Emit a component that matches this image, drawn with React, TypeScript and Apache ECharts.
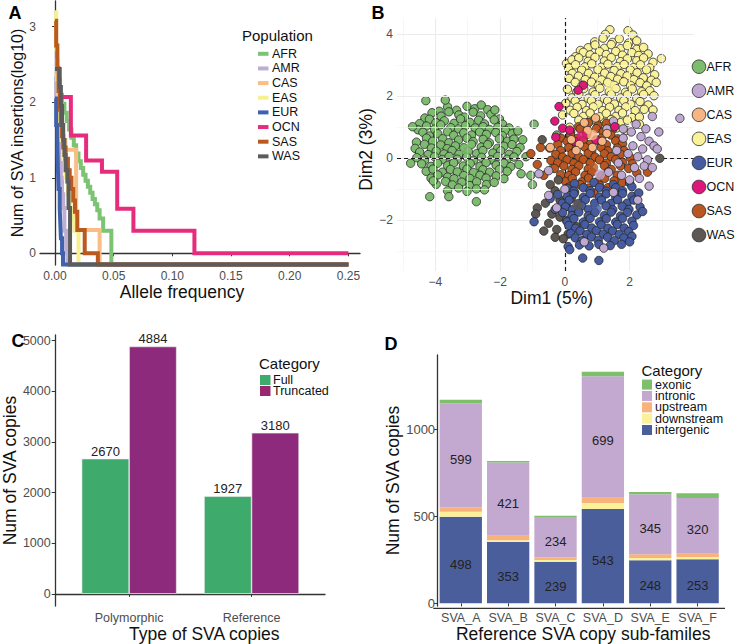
import React, { useEffect, useRef } from "react";
import * as echarts from "echarts";

const FONT = "'Liberation Sans', Arial, Helvetica, sans-serif";

// ---------------- Panel A: allele frequency step lines ----------------
const populations = ["AFR", "AMR", "CAS", "EAS", "EUR", "OCN", "SAS", "WAS"];
const afLineColors = ["#7CC474", "#BEAED4", "#FABD86", "#F6F08E", "#3E62AE", "#E62C7C", "#BA5A1E", "#5C5C5C"];
// [allele frequency, log10(number of SVA insertions)] ; -0.15 = no insertion (drawn at the axis floor)
const afrSteps = [[0, 2.55], [0.002, 2.3], [0.004, 2.1], [0.006, 1.98], [0.008, 1.86], [0.01, 1.75], [0.012, 1.64], [0.014, 1.53], [0.016, 1.43], [0.018, 1.32], [0.02, 1.22], [0.022, 1.13], [0.024, 1.04], [0.026, 0.96], [0.028, 0.88], [0.03, 0.8], [0.032, 0.72], [0.034, 0.65], [0.036, 0.57], [0.038, 0.46], [0.041, 0.3], [0.048, -0.15], [0.25, -0.15]];
const amrSteps = [[0, 2.35], [0.001, 2.0], [0.002, 1.7], [0.003, 1.45], [0.004, 1.2], [0.005, 1.0], [0.006, 0.78], [0.007, 0.6], [0.008, 0.3], [0.0095, 0], [0.0105, -0.15], [0.25, -0.15]];
const casSteps = [[0, 1.95], [0.003, 1.7], [0.006, 1.5], [0.0088, 1.37], [0.018, 0.31], [0.038, -0.15], [0.25, -0.15]];
const easSteps = [[0, 3.19], [0.001, 2.7], [0.002, 2.3], [0.003, 2.0], [0.004, 1.75], [0.005, 1.5], [0.007, 1.25], [0.009, 1.0], [0.011, 0.78], [0.013, 0.6], [0.015, 0.45], [0.0165, 0.3], [0.02, -0.15], [0.25, -0.15]];
const eurSteps = [[0, 2.05], [0.001, 1.7], [0.002, 1.4], [0.0025, 1.1], [0.003, 0.85], [0.004, 0.6], [0.0045, 0.4], [0.005, 0.2], [0.006, 0], [0.0068, -0.15], [0.25, -0.15]];
const ocnSteps = [[0.003, 2.07], [0.0135, 1.56], [0.0265, 1.23], [0.04, 1.08], [0.053, 0.59], [0.0668, 0.3], [0.1188, 0], [0.25, 0]];
const sasSteps = [[0, 3.08], [0.001, 2.75], [0.002, 2.45], [0.003, 2.15], [0.004, 1.9], [0.005, 1.7], [0.006, 1.55], [0.007, 1.4], [0.009, 1.25], [0.011, 1.1], [0.0125, 1.0], [0.014, 0.85], [0.0155, 0.7], [0.017, 0.55], [0.019, 0.31], [0.0253, 0], [0.0365, -0.15], [0.25, -0.15]];
const wasSteps = [[0, 2.44], [0.004, 2.2], [0.005, 1.95], [0.006, 1.7], [0.007, 1.5], [0.008, 1.3], [0.009, 1.1], [0.0105, 0.95], [0.0115, 0.6], [0.0128, -0.15], [0.25, -0.15]];
const stepsByPop = [afrSteps, amrSteps, casSteps, easSteps, eurSteps, ocnSteps, sasSteps, wasSteps];
const afTicks = [0, 0.05, 0.1, 0.15, 0.2, 0.25];
const log10Ticks = [0, 1, 2, 3];

// ---------------- Panel B: PCA scatter ----------------
const pcaColors = ["#7DBB6E", "#BFA9D2", "#F7B583", "#FAF29A", "#465BA0", "#E0177A", "#BA5620", "#5E5853"];
const afrPts = [
  -3.88, 1.52, -3.62, 1.66, -3.34, 1.55, -3.02, 1.68, -2.78, 1.6, -2.58, 1.72, -2.38, 1.57,
  -4.32, 1.3, -4.1, 1.47, -3.82, 1.36, -3.58, 1.5, -3.27, 1.4, -3.1, 1.33, -2.83, 1.49, -2.6, 1.37, -2.28, 1.42, -2.02, 1.27,
  -4.48, 1.12, -4.18, 1.26, -3.98, 1.15, -3.72, 1.21, -3.42, 1.13, -3.22, 1.27, -2.93, 1.16, -2.66, 1.23, -2.48, 1.11, -2.18, 1.24, -1.92, 1.1, -1.72, 0.98,
  -4.53, 0.92, -4.27, 1.04, -4.02, 0.94, -3.83, 1.08, -3.52, 0.99, -3.28, 0.95, -3.07, 1.05, -2.77, 0.98, -2.52, 1.02, -2.33, 0.93, -2.07, 1.0, -1.83, 0.9,
  -4.38, 0.84, -4.18, 0.72, -3.92, 0.79, -3.62, 0.86, -3.43, 0.74, -3.12, 0.82, -2.88, 0.75, -2.63, 0.85, -2.42, 0.77, -2.13, 0.83, -1.93, 0.73, -1.62, 0.8, -1.45, 0.88,
  -4.58, 0.52, -4.27, 0.65, -4.08, 0.55, -3.77, 0.63, -3.58, 0.5, -3.28, 0.59, -3.02, 0.65, -2.83, 0.54, -2.52, 0.61, -2.33, 0.5, -2.02, 0.63, -1.77, 0.55, -1.57, 0.62,
  -4.62, 0.32, -4.33, 0.45, -4.12, 0.33, -3.83, 0.43, -3.63, 0.31, -3.38, 0.4, -3.12, 0.34, -2.88, 0.45, -2.58, 0.36, -2.38, 0.44, -2.08, 0.32, -1.88, 0.39, -1.63, 0.44, -1.38, 0.35,
  -4.48, 0.2, -4.22, 0.12, -3.97, 0.23, -3.73, 0.14, -3.48, 0.25, -3.27, 0.13, -2.98, 0.22, -2.72, 0.15, -2.53, 0.25, -2.22, 0.17, -1.98, 0.24, -1.72, 0.13, -1.48, 0.22,
  -4.57, 0.02, -4.33, -0.06, -4.02, 0.05, -3.78, -0.04, -3.57, 0.06, -3.32, -0.03, -3.03, 0.04, -2.82, -0.07, -2.57, 0.03, -2.28, -0.05, -2.07, 0.06, -1.78, -0.03, -1.57, 0.04,
  -4.42, -0.18, -4.13, -0.26, -3.93, -0.16, -3.62, -0.24, -3.43, -0.15, -3.13, -0.25, -2.92, -0.17, -2.62, -0.26, -2.43, -0.14, -2.12, -0.22, -1.88, -0.16, -1.67, -0.27, -1.42, -0.2,
  -4.28, -0.42, -4.07, -0.35, -3.78, -0.45, -3.53, -0.36, -3.32, -0.44, -3.02, -0.35, -2.82, -0.46, -2.53, -0.37, -2.32, -0.45, -2.02, -0.36, -1.78, -0.42,
  -4.13, -0.64, -3.92, -0.54, -3.62, -0.61, -3.42, -0.66, -3.12, -0.56, -2.93, -0.65, -2.62, -0.55, -2.43, -0.64, -2.12, -0.57, -1.88, -0.66,
  -3.97, -0.84, -3.68, -0.75, -3.47, -0.86, -3.18, -0.77, -2.93, -0.88, -2.72, -0.76, -2.42, -0.85, -2.18, -0.78,
  -3.62, -1.05, -3.28, -0.96, -3.02, -1.07, -2.73, -0.99, -2.48, -1.02,
  -4.29, 1.86, -3.69, 1.88, -4.7, 1.02, -4.76, -0.16, -4.17, -1.24, -2.73, -1.4, -2.16, 1.56, -3.58, -1.24, -4.06, -0.73,
  -1.3, 0.6, -1.2, 0.05, -1.35, -0.5, -0.95, 1.1, -1.05, -0.55, -1.0, -0.85, -0.35, -0.3, -0.25, 0.75,
];
const easPts = [
  1.39, 4.15, 1.95, 4.12, 2.1, 3.98, 1.25, 4.0,
  0.92, 3.76, 1.18, 3.88, 1.47, 3.74, 1.68, 3.86, 1.97, 3.72, 2.22, 3.79,
  0.48, 3.48, 0.72, 3.57, 0.93, 3.66, 1.22, 3.55, 1.43, 3.67, 1.72, 3.54, 1.93, 3.64, 2.22, 3.52, 2.43, 3.58,
  0.33, 3.28, 0.57, 3.42, 0.78, 3.34, 1.07, 3.44, 1.28, 3.35, 1.57, 3.45, 1.78, 3.33, 2.07, 3.41, 2.28, 3.32, 2.57, 3.37,
  0.05, 3.06, 0.22, 3.18, 0.43, 3.24, 0.72, 3.13, 0.93, 3.26, 1.22, 3.14, 1.43, 3.25, 1.72, 3.12, 1.93, 3.21, 2.22, 3.15, 2.43, 3.24, 2.72, 3.1, 2.98, 3.22,
  0.12, 2.92, 0.33, 3.02, 0.62, 2.95, 0.83, 3.05, 1.12, 2.94, 1.33, 3.04, 1.62, 2.96, 1.83, 3.03, 2.12, 2.93, 2.33, 3.02, 2.62, 2.92,
  0.23, 2.74, 0.52, 2.85, 0.73, 2.74, 1.02, 2.86, 1.23, 2.75, 1.52, 2.84, 1.73, 2.73, 2.02, 2.85, 2.23, 2.76, 2.52, 2.86, 2.77, 2.7,
  0.13, 2.58, 0.42, 2.65, 0.63, 2.54, 0.92, 2.62, 1.13, 2.53, 1.42, 2.64, 1.63, 2.55, 1.92, 2.66, 2.13, 2.54, 2.42, 2.6, 2.67, 2.52,
  0.32, 2.45, 0.53, 2.35, 0.82, 2.46, 1.03, 2.34, 1.32, 2.45, 1.53, 2.35, 1.82, 2.47, 2.03, 2.35, 2.32, 2.44, 2.53, 2.34, 2.82, 2.45,
  0.08, 2.23, 0.37, 2.14, 0.58, 2.25, 0.87, 2.14, 1.08, 2.26, 1.37, 2.15, 1.58, 2.25, 1.87, 2.13, 2.08, 2.24, 2.37, 2.15, 2.62, 2.18,
  0.22, 1.95, 0.43, 2.06, 0.72, 1.94, 0.93, 2.05, 1.22, 1.93, 1.43, 2.06, 1.72, 1.95, 1.93, 2.05, 2.22, 1.94, 2.43, 2.06, 2.75, 2.02,
  0.03, 1.78, 0.32, 1.85, 0.53, 1.74, 0.82, 1.86, 1.03, 1.74, 1.32, 1.85, 1.53, 1.75, 1.82, 1.86, 2.03, 1.74, 2.32, 1.83, 2.57, 1.72,
  0.17, 1.55, 0.38, 1.65, 0.67, 1.54, 0.88, 1.66, 1.17, 1.54, 1.38, 1.65, 1.67, 1.55, 1.88, 1.66, 2.17, 1.54, 2.45, 1.58, 2.72, 1.56,
  -0.07, 1.4, 0.28, 1.45, 0.57, 1.35, 0.78, 1.46, 1.07, 1.34, 1.28, 1.45, 1.57, 1.35, 1.78, 1.46, 2.07, 1.32, 2.3, 1.33,
  0.43, 1.23, 0.72, 1.15, 0.93, 1.26, 1.22, 1.14, 1.43, 1.25, 1.72, 1.15, 1.93, 1.23, 2.3, 1.1,
  0.15, 1.0, 0.6, 0.95, 1.1, 1.02, 1.6, 0.98, 1.9, 0.9,
];
const sasPts = [
  0.42, 1.02, 0.73, 1.15, 1.02, 1.05, 1.28, 1.13,
  0.18, 0.85, 0.47, 0.95, 0.68, 0.84, 0.97, 0.96, 1.18, 0.85, 1.47, 0.93,
  -0.12, 0.65, 0.17, 0.75, 0.38, 0.64, 0.67, 0.76, 1.13, 0.65, 1.42, 0.75, 1.63, 0.63,
  -0.22, 0.45, 0.07, 0.55, 0.28, 0.44, 0.57, 0.56, 0.78, 0.45, 1.07, 0.55, 1.28, 0.44, 1.57, 0.56, 1.78, 0.47,
  -0.47, 0.33, -0.13, 0.25, 0.12, 0.35, 0.33, 0.24, 0.62, 0.36, 0.83, 0.25, 1.12, 0.35, 1.33, 0.24, 1.62, 0.33, 1.83, 0.25,
  -0.28, 0.13, -0.07, 0.04, 0.22, 0.15, 0.43, 0.05, 0.72, 0.16, 0.93, 0.04, 1.22, 0.15, 1.43, 0.05, 1.72, 0.13, 2.02, 0.02,
  -0.43, -0.07, -0.22, -0.15, 0.07, -0.05, 0.28, -0.16, 0.57, -0.04, 0.78, -0.15, 1.07, -0.05, 1.28, -0.16, 1.57, -0.04, 1.78, -0.13, 2.08, -0.18,
  -0.32, -0.33, -0.03, -0.25, 0.22, -0.36, 0.43, -0.24, 0.72, -0.35, 1.22, -0.24, 1.43, -0.36, 1.72, -0.25, 1.97, -0.33,
  -0.13, -0.53, 0.12, -0.56, 0.33, -0.44, 0.62, -0.55, 0.83, -0.45, 1.12, -0.56, 1.33, -0.44, 1.62, -0.55, 2.22, -0.47,
  0.02, -0.75, 0.23, -0.65, 0.52, -0.76, 0.73, -0.64, 1.02, -0.75, 1.23, -0.65, 1.52, -0.73, 1.78, -0.78,
  0.13, -0.93, 0.47, -0.85, 0.73, -0.96, 1.07, -0.87, 1.33, -0.95,
  0.3, -1.1, 0.9, -1.12, 1.6, -1.05,
  -1.05, 0.15, -0.85, -0.2, -0.75, 0.35, -0.65, -0.55, 2.55, -0.45,
];
const eurPts = [
  0.3, -0.82, 0.9, -0.78, 1.5, -0.85, 2.0, -0.8,
  0.07, -0.97, 0.28, -1.06, 0.57, -0.95, 0.78, -1.05, 1.07, -0.94, 1.28, -1.06, 1.57, -0.95, 1.78, -1.05, 2.07, -0.92,
  -0.22, -1.17, 0.07, -1.25, 0.28, -1.15, 0.57, -1.26, 0.78, -1.14, 1.07, -1.25, 1.28, -1.15, 1.57, -1.26, 1.78, -1.14, 2.07, -1.23, 2.28, -1.12,
  -0.08, -1.45, 0.13, -1.35, 0.42, -1.46, 0.63, -1.34, 0.92, -1.45, 1.13, -1.35, 1.42, -1.46, 1.63, -1.34, 1.92, -1.45, 2.13, -1.35,
  0.02, -1.57, 0.23, -1.66, 0.52, -1.54, 0.73, -1.65, 1.27, -1.54, 1.48, -1.66, 1.77, -1.55, 1.98, -1.65, 2.32, -1.57,
  -0.07, -1.75, 0.22, -1.85, 0.43, -1.74, 0.72, -1.86, 0.93, -1.75, 1.22, -1.85, 1.43, -1.74, 1.72, -1.86, 1.93, -1.75, 2.22, -1.83,
  0.07, -2.05, 0.28, -1.95, 0.57, -2.06, 0.78, -1.94, 1.07, -2.05, 1.28, -1.95, 1.57, -2.06, 1.78, -1.94, 2.07, -2.03,
  0.12, -2.17, 0.33, -2.26, 0.62, -2.14, 0.83, -2.25, 1.12, -2.15, 1.33, -2.26, 1.62, -2.14, 1.83, -2.25, 2.12, -2.17,
  0.18, -2.43, 0.47, -2.35, 0.68, -2.46, 0.97, -2.34, 1.18, -2.45, 1.47, -2.35, 1.68, -2.46, 1.97, -2.37,
  0.32, -2.57, 0.53, -2.66, 0.82, -2.54, 1.03, -2.65, 1.32, -2.55, 1.53, -2.66, 1.82, -2.57, 2.07, -2.52,
  0.1, -2.85, 0.45, -2.8, 0.75, -2.83, 1.05, -2.78, 1.4, -2.82, 1.75, -2.78,
  0.15, -2.95, 0.55, -3.22, 1.05, -3.3, -0.95, -2.05, 2.4, -1.72, 2.0, -2.7, -0.45, -1.3, -0.3, -1.65,
];
const amrPts = [
  1.5, 1.2, 2.2, 1.1, 2.7, 1.35, 3.55, 1.29, 2.05, 0.85, 2.35, 0.7, 2.6, 0.55, 2.9, 0.85, 1.8, 0.65, 2.1, 0.4,
  2.4, 0.3, 2.75, 0.4, 1.95, 0.15, 2.25, 0.05, 2.55, -0.05, 2.85, 0.3, 2.15, -0.3, 2.45, -0.25, 2.7, -0.3, 1.75, -0.55,
  2.0, -0.7, 2.3, -0.65, 1.6, 0.25, 1.35, -0.45, 1.65, -0.15, 2.6, -0.9, 1.8, 0.95, 2.5, 0.95, 1.3, 0.95,
  -0.5, -0.4, -0.8, -0.5, -0.5, -1.2, -0.25, -1.6, 0.0, -1.0, 1.2, -2.9, 0.6, -2.7, 1.5, -1.1, 2.25, -1.35,
];
const wasPts = [
  -0.7, 0.6, -0.45, -0.85, -0.3, -1.05, -0.6, -1.45, -0.15, -1.35, 0.05, -1.55, -0.4, -1.8, -0.15, -1.9, -0.5, -2.1, -0.25, -2.3, 0.05, -2.0,
  0.25, -1.75, 0.1, -2.45, -0.05, -2.6, -0.3, -2.55, -0.85, -1.6, -0.9, -1.8, 2.93, 0.0, 0.2, -1.3, -0.2, -0.7, 0.35, -2.2, -0.65, -2.35,
];
const ocnPts = [0.57, 2.36, 0.41, 2.2, -0.18, 1.67, -0.28, 0.68, -0.07, 0.97, 0.15, 0.91, 1.54, 1.02, 0.96, 0.59, -0.31, 1.2, 0.3, 0.55];
const casPts = [0.2, 0.6, 0.45, 0.45, 0.7, 0.9, 0.95, 1.3, 1.15, 0.55, 0.35, 0.25, 0.85, 0.35, 0.6, 1.15, -0.45, 0.35, 1.3, 0.8];
const ptsByPop = [afrPts, amrPts, casPts, easPts, eurPts, ocnPts, sasPts, wasPts];
const drawOrder = [0, 3, 6, 7, 4, 1, 5, 2];
const centroidX = [-3.05, 1.08, 0.85, 1.42, 0.98, 0.53, 0.87, 0.39];
const centroidY = [0.28, -0.52, 0.75, 2.33, -1.64, 0.72, -0.3, -1.51];
const dim1Ticks = [-4, -2, 0, 2];
const dim2Ticks = [-2, 0, 2, 4];
const dim1Major = [-4, -2, 0, 2];
const dim1Minor = [-5, -3, -1, 1, 3];
const dim2Major = [-2, 0, 2, 4];
const dim2Minor = [-3, -1, 1, 3];

// ---------------- Panel C: copies by type ----------------
const copyTypes = ["Polymorphic", "Reference"];
const fullCounts = [2670, 1927];
const truncatedCounts = [4884, 3180];
const copyTicks = [0, 1000, 2000, 3000, 4000, 5000];
const fullColor = "#3EAA6B";
const truncColor = "#8E2A7B";

// ---------------- Panel D: sub-families by genomic region ----------------
const subfamilies = ["SVA_A", "SVA_B", "SVA_C", "SVA_D", "SVA_E", "SVA_F"];
const intergenic = [498, 353, 239, 543, 248, 253];
const downstream = [28, 10, 10, 34, 12, 13];
const upstream = [25, 26, 14, 30, 22, 19];
const intronic = [599, 421, 234, 699, 345, 320];
const exonic = [20, 8, 6, 25, 13, 28];
const regionNames = ["exonic", "intronic", "upstream", "downstream", "intergenic"];
const regionColors = ["#7DBF6A", "#C3A8D0", "#F7B37B", "#FCF19B", "#4B5E9C"];
const subTicks = [0, 500, 1000];

const pair = (a: number[]) => {
  const out: number[][] = [];
  for (let i = 0; i < a.length; i += 2) out.push([a[i], a[i + 1]]);
  return out;
};
const minus = (v: number) => (v < 0 ? "\u2212" + Math.abs(v) : String(v));

export default function App() {
  const ref = useRef<HTMLDivElement>(null);
  useEffect(() => {
    if (!ref.current) return;
    const chart = echarts.init(ref.current, undefined, { renderer: "svg" });
    const axisLine = { show: true, lineStyle: { color: "#333333", width: 1.3 } };
    const tick = (vals: number[], len = 3) => ({ show: true, customValues: vals, length: len, lineStyle: { color: "#333333", width: 1 } });
    const lab = (vals: number[], margin: number, fmt?: (v: number) => string, size = 12) => ({
      show: true, customValues: vals, margin, color: "#4D4D4D", fontSize: size, fontFamily: FONT,
      formatter: fmt ? (v: number) => fmt(v) : (v: number) => String(v),
    });
    const nameStyle = (padding?: number[], size = 17.5) => ({ fontSize: size, color: "#111111", fontFamily: FONT, padding });

    const seriesA = stepsByPop.map((pts, i) => ({
      type: "line", name: populations[i], xAxisIndex: 0, yAxisIndex: 0, data: pts, step: "end",
      showSymbol: false, symbol: "none", clip: false, silent: true, z: 2 + i,
      lineStyle: { color: afLineColors[i], width: 4, cap: "butt", join: "miter" },
      itemStyle: { color: afLineColors[i] },
    }));

    const gridLines = [
      ...dim1Minor.map((v) => ({ xAxis: v, lineStyle: { color: "#F3F3F3", width: 0.7, type: "solid" } })),
      ...dim2Minor.map((v) => ({ yAxis: v, lineStyle: { color: "#F3F3F3", width: 0.7, type: "solid" } })),
      ...dim1Major.map((v) => ({ xAxis: v, lineStyle: { color: "#EBEBEB", width: 1, type: "solid" } })),
      ...dim2Major.map((v) => ({ yAxis: v, lineStyle: { color: "#EBEBEB", width: 1, type: "solid" } })),
      { xAxis: 0, lineStyle: { color: "#1A1A1A", width: 1.2, type: [4, 3] } },
      { yAxis: 0, lineStyle: { color: "#1A1A1A", width: 1.2, type: [4, 3] } },
    ];
    const seriesB: any[] = [
      {
        type: "scatter", xAxisIndex: 1, yAxisIndex: 1, data: [], z: 1, silent: true,
        markLine: { silent: true, symbol: ["none", "none"], label: { show: false }, data: gridLines },
      },
      ...drawOrder.map((i, k) => ({
        type: "scatter", name: populations[i], xAxisIndex: 1, yAxisIndex: 1, data: pair(ptsByPop[i]),
        symbolSize: 8.4, z: 3 + k, silent: true,
        itemStyle: { color: pcaColors[i], borderColor: "#262626", borderWidth: 0.8, opacity: 1 },
      })),
      {
        type: "scatter", name: "centroids", xAxisIndex: 1, yAxisIndex: 1, symbolSize: 10.5, z: 20, silent: true,
        data: populations.map((p, i) => ({ value: [centroidX[i], centroidY[i]], itemStyle: { color: pcaColors[i] } })),
        itemStyle: { borderWidth: 0 },
      },
    ];

    const seriesC = [
      { name: "Full", vals: fullCounts, color: fullColor },
      { name: "Truncated", vals: truncatedCounts, color: truncColor },
    ].map((s) => ({
      type: "bar", name: s.name, xAxisIndex: 2, yAxisIndex: 2, barWidth: 47.5, barGap: "0%",
      data: s.vals.map((v, i) => [i + 1, v]), silent: true,
      itemStyle: { color: s.color, borderColor: "#F4EEF4", borderWidth: 0.6 },
      label: { show: true, position: "top", distance: 1, color: "#222222", fontSize: 13, fontFamily: FONT },
    }));

    const dStack = [
      { name: "intergenic", vals: intergenic, color: regionColors[4], label: true },
      { name: "downstream", vals: downstream, color: regionColors[3], label: false },
      { name: "upstream", vals: upstream, color: regionColors[2], label: false },
      { name: "intronic", vals: intronic, color: regionColors[1], label: true },
      { name: "exonic", vals: exonic, color: regionColors[0], label: false },
    ];
    const seriesD = dStack.map((s) => ({
      type: "bar", name: s.name, xAxisIndex: 3, yAxisIndex: 3, stack: "region", barWidth: 42.3,
      data: s.vals, silent: true,
      itemStyle: { color: s.color },
      label: {
        show: s.label, position: "inside", offset: [0, 4], color: "#222222", fontSize: 13, fontFamily: FONT,
      },
    }));

    const T = (text: string, x: number, y: number, size: number, extra: any = {}) => ({
      type: "text", x, y, z: 100, silent: true,
      style: { text, fontSize: size, fontFamily: FONT, fill: "#111111", align: "left", verticalAlign: "middle", ...extra },
    });
    const graphics: any[] = [
      T("A", 15, 13, 18, { fontWeight: "bold", align: "center", fill: "#000" }),
      T("B", 378, 13, 18, { fontWeight: "bold", align: "center", fill: "#000" }),
      T("C", 18, 341, 18, { fontWeight: "bold", align: "center", fill: "#000" }),
      T("D", 391, 344, 18, { fontWeight: "bold", align: "center", fill: "#000" }),
      T("Population", 242, 35, 15),
      T("Category", 259, 363, 15, { lineHeight: 13 }),
      T("Category", 641.5, 370, 15, { lineHeight: 13 }),
      // x-axis line of panel D (ggplot draws it over the whole expanded range)
      { type: "line", z: 50, silent: true, shape: { x1: 433.3, y1: 608.3, x2: 725, y2: 608.3 }, style: { stroke: "#333333", lineWidth: 1.3 } },
      // legend labels of panels C and D (one multi-line text per legend; rows are packed as tightly as in the figure)
      T(copyTypes.length ? ["Full", "Truncated"].join("\n") : "", 273, 374.5, 12.5, { lineHeight: 11, verticalAlign: "top" }),
      T(regionNames.join("\n"), 655, 378.9, 12.5, { lineHeight: 11.35, verticalAlign: "top" }),
    ];
    populations.forEach((p, i) => {
      const cy = 53.8 + i * 14.65;
      graphics.push({ type: "rect", z: 100, silent: true, shape: { x: 258, y: cy - 2, width: 10.5, height: 4 }, style: { fill: afLineColors[i] } });
      graphics.push(T(p, 272, cy, 12.5, { lineHeight: 13 }));
      const by = 66.7 + i * 24.05;
      graphics.push({ type: "circle", z: 100, silent: true, shape: { cx: 699, cy: by, r: 6.8 }, style: { fill: pcaColors[i], stroke: "#2A2A2A", lineWidth: 0.8 } });
      graphics.push(T(p, 706.5, by, 12.5));
    });
    [fullColor, "#962870"].forEach((c, i) => {
      const cy = 380 + i * 11;
      graphics.push({ type: "rect", z: 100, silent: true, shape: { x: 260, y: cy - 5, width: 10.5, height: 10 }, style: { fill: c } });
    });
    regionNames.forEach((n, i) => {
      const cy = 384.6 + i * 11.35;
      graphics.push({ type: "rect", z: 100, silent: true, shape: { x: 642, y: cy - 5, width: 10, height: 10 }, style: { fill: regionColors[i] } });
    });

    chart.setOption({
      animation: false,
      textStyle: { fontFamily: FONT },
      grid: [
        { left: 40, top: 1, width: 320, height: 264 },
        { left: 397, top: 18, width: 296.5, height: 253 },
        { left: 55, top: 335, width: 270, height: 273.3 },
        { left: 437.1, top: 355, width: 284.2, height: 253.3 },
      ],
      xAxis: [
        {
          type: "value", gridIndex: 0, min: -0.0128, max: 0.2599, axisLine, axisTick: tick(afTicks),
          axisLabel: lab(afTicks, 5, (v) => v.toFixed(2)), splitLine: { show: false },
          name: "Allele frequency", nameLocation: "middle", nameGap: 18, nameTextStyle: nameStyle([0, 36, 0, 0]),
        },
        {
          type: "value", gridIndex: 1, min: -5.18, max: 3.97, axisLine: { show: false }, axisTick: { show: false },
          axisLabel: lab(dim1Ticks, 5, minus), splitLine: { show: false },
          name: "Dim1 (5%)", nameLocation: "middle", nameGap: 12, nameTextStyle: nameStyle([0, 0, 0, 13]),
        },
        {
          type: "value", gridIndex: 2, min: 0.4, max: 2.6, axisLine, axisTick: tick([1, 2]),
          axisLabel: lab([1, 2], 5, (v) => copyTypes[Math.round(v) - 1], 12.5), splitLine: { show: false },
          name: "Type of SVA copies", nameLocation: "middle", nameGap: 13, nameTextStyle: nameStyle([0, 0, 0, 28]),
        },
        {
          type: "category", gridIndex: 3, data: subfamilies, axisLine: { show: false },
          axisTick: { show: true, alignWithLabel: true, length: 3, lineStyle: { color: "#333333" } },
          axisLabel: { margin: 5, color: "#4D4D4D", fontSize: 12.5, fontFamily: FONT, interval: 0 }, splitLine: { show: false },
          name: "Reference SVA copy sub-familes", nameLocation: "middle", nameGap: 14, nameTextStyle: nameStyle([0, 0, 0, 8]),
        },
      ],
      yAxis: [
        {
          type: "value", gridIndex: 0, min: -0.155, max: 3.34, axisLine, axisTick: tick(log10Ticks),
          axisLabel: lab(log10Ticks, 4), splitLine: { show: false },
          name: "Num of SVA insertions(log10)", nameLocation: "middle", nameGap: 14, nameTextStyle: nameStyle(undefined, 16),
        },
        {
          type: "value", gridIndex: 1, min: -3.64, max: 4.53, axisLine: { show: false }, axisTick: { show: false },
          axisLabel: lab(dim2Ticks, 4, minus), splitLine: { show: false },
          name: "Dim2 (3%)", nameLocation: "middle", nameGap: 11, nameTextStyle: nameStyle([0, 10, 0, 0]),
        },
        {
          type: "value", gridIndex: 2, min: -241, max: 5111, axisLine, axisTick: tick(copyTicks, 4),
          axisLabel: lab(copyTicks, 5, undefined, 12.5), splitLine: { show: false },
          name: "Num of SVA copies", nameLocation: "middle", nameGap: 36, nameTextStyle: nameStyle(),
        },
        {
          type: "value", gridIndex: 3, min: -16, max: 1428, axisLine, axisTick: tick(subTicks, 3),
          axisLabel: lab(subTicks, 2, undefined, 13), splitLine: { show: false },
          name: "Num of SVA copies", nameLocation: "middle", nameGap: 27, nameTextStyle: nameStyle(),
        },
      ],
      series: [...seriesA, ...seriesB, ...seriesC, ...seriesD],
      graphic: graphics,
    });
    return () => chart.dispose();
  }, []);
  return <div ref={ref} style={{ position: "fixed", left: 0, top: 0, width: 735, height: 644, background: "#fff" }} />;
}
